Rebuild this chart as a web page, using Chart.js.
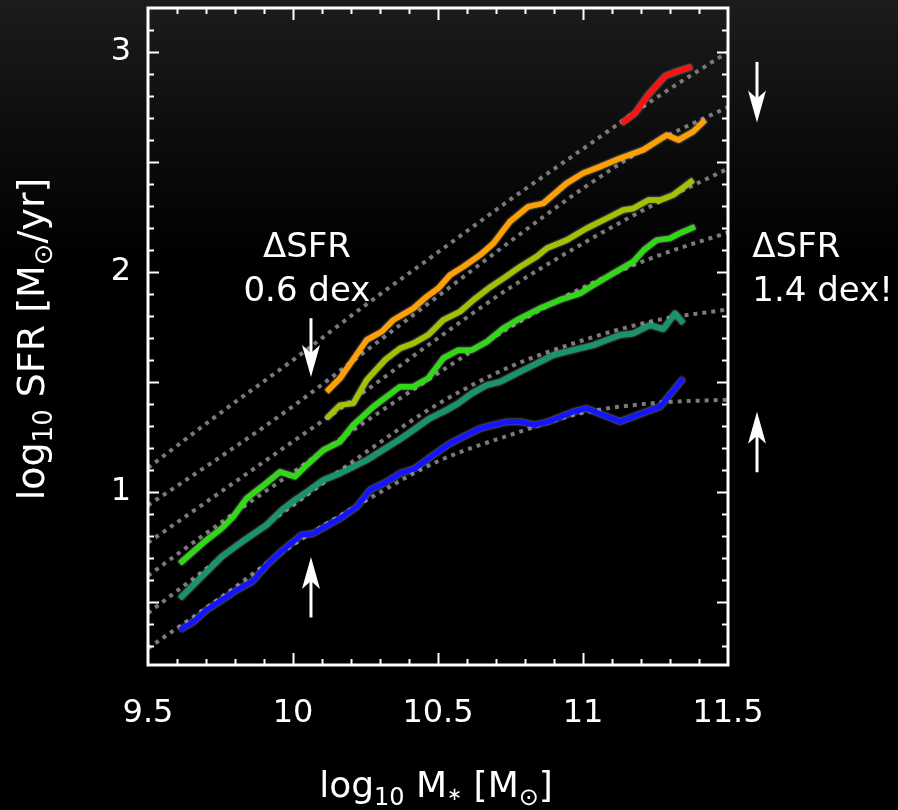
<!DOCTYPE html>
<html lang="en">
<head>
<meta charset="UTF-8">
<title>SFR vs stellar mass</title>
<script src="https://cdn.jsdelivr.net/npm/chart.js"></script>
<style>
    html, body { margin: 0; padding: 0; }
    body {
        width: 898px;
        height: 810px;
        overflow: hidden;
        background: linear-gradient(to bottom, #1c1c1c 0px, #0c0c0c 140px, #000 260px);
    }
    #sfr { display: block; }
</style>
</head>
<body>
<canvas id="sfr" width="898" height="810"></canvas>
<script>
// binned relations, log10 M* vs log10 SFR
const redMass = [11.133, 11.179, 11.225, 11.283, 11.323, 11.375];
const redSfr  = [2.676, 2.721, 2.805, 2.891, 2.911, 2.933];

const orangeMass = [10.116, 10.162, 10.214, 10.254, 10.306, 10.346, 10.369, 10.415, 10.461, 10.501, 10.541, 10.587, 10.645,
                    10.691, 10.748, 10.811, 10.863, 10.943, 11.0, 11.059, 11.128, 11.208, 11.289, 11.329, 11.38, 11.421];
const orangeSfr  = [1.456, 1.517, 1.615, 1.691, 1.729, 1.782, 1.80, 1.835, 1.888, 1.926, 1.986, 2.024, 2.077,
                    2.13, 2.229, 2.297, 2.312, 2.403, 2.449, 2.479, 2.517, 2.555, 2.623, 2.60, 2.638, 2.691];

const oliveMass = [10.116, 10.162, 10.208, 10.254, 10.317, 10.369, 10.415, 10.466, 10.518, 10.576, 10.622, 10.674, 10.725,
                   10.783, 10.84, 10.875, 10.944, 11.013, 11.082, 11.139, 11.174, 11.225, 11.266, 11.311, 11.38];
const oliveSfr  = [1.335, 1.395, 1.403, 1.509, 1.60, 1.653, 1.676, 1.714, 1.782, 1.82, 1.873, 1.926, 1.971,
                   2.024, 2.07, 2.108, 2.145, 2.199, 2.244, 2.282, 2.289, 2.327, 2.327, 2.35, 2.418];

const greenMass = [9.61, 9.656, 9.702, 9.754, 9.794, 9.84, 9.892, 9.955, 10.007, 10.041, 10.105, 10.162, 10.208, 10.277,
                   10.369, 10.415, 10.466, 10.518, 10.57, 10.616, 10.668, 10.725, 10.783, 10.852, 10.921, 10.99, 11.036,
                   11.104, 11.174, 11.21, 11.254, 11.30, 11.334, 11.386];
const greenSfr  = [0.676, 0.729, 0.782, 0.835, 0.888, 0.971, 1.024, 1.092, 1.07, 1.115, 1.191, 1.229, 1.305, 1.388,
                   1.479, 1.479, 1.517, 1.608, 1.645, 1.645, 1.683, 1.744, 1.789, 1.835, 1.873, 1.903, 1.941,
                   1.994, 2.047, 2.10, 2.145, 2.153, 2.176, 2.206];

const tealMass = [9.61, 9.662, 9.708, 9.754, 9.80, 9.858, 9.909, 9.961, 10.007, 10.041, 10.105, 10.162, 10.254, 10.369,
                  10.415, 10.472, 10.53, 10.57, 10.616, 10.668, 10.714, 10.76, 10.806, 10.852, 10.898, 10.944, 10.99,
                  11.036, 11.082, 11.128, 11.174, 11.231, 11.277, 11.317, 11.346];
const tealSfr  = [0.517, 0.585, 0.645, 0.706, 0.751, 0.805, 0.85, 0.918, 0.964, 0.994, 1.055, 1.085, 1.145, 1.24,
                  1.282, 1.335, 1.373, 1.403, 1.448, 1.486, 1.501, 1.532, 1.562, 1.592, 1.623, 1.638, 1.653,
                  1.668, 1.691, 1.714, 1.721, 1.759, 1.741, 1.812, 1.767];

const blueMass = [9.61, 9.656, 9.702, 9.754, 9.806, 9.858, 9.915, 9.972, 10.03, 10.07, 10.162, 10.22, 10.266, 10.323,
                  10.369, 10.421, 10.484, 10.541, 10.587, 10.645, 10.691, 10.742, 10.783, 10.834, 10.881, 10.967,
                  11.013, 11.07, 11.128, 11.197, 11.266, 11.346];
const blueSfr  = [0.373, 0.41, 0.464, 0.509, 0.555, 0.592, 0.676, 0.744, 0.805, 0.812, 0.88, 0.933, 1.009, 1.047,
                  1.085, 1.108, 1.168, 1.221, 1.251, 1.289, 1.305, 1.32, 1.32, 1.305, 1.32, 1.365,
                  1.38, 1.35, 1.32, 1.355, 1.388, 1.517];

// dotted model curves, sampled on a common mass grid
const modelMass = [9.5, 9.75, 10.0, 10.25, 10.5, 10.75, 11.0, 11.25, 11.5];
const model1 = [1.11, 1.36, 1.60, 1.85, 2.09, 2.33, 2.56, 2.79, 3.00];
const model2 = [0.94, 1.16, 1.39, 1.64, 1.89, 2.14, 2.38, 2.59, 2.75];
const model3 = [0.77, 1.00, 1.23, 1.46, 1.70, 1.93, 2.13, 2.31, 2.47];
const model4 = [0.62, 0.86, 1.09, 1.32, 1.54, 1.75, 1.93, 2.07, 2.18];
const model5 = [0.45, 0.70, 0.94, 1.18, 1.40, 1.57, 1.69, 1.78, 1.83];
const model6 = [0.29, 0.52, 0.76, 0.96, 1.14, 1.26, 1.36, 1.405, 1.42];

const xTickValues = [9.5, 10, 10.5, 11, 11.5];
const yTickValues = [1, 2, 3];

// arrows: x, tail y, tip y (data units)
const arrowX    = [10.062, 10.062, 11.60, 11.60];
const arrowTail = [1.79, 0.43, 2.955, 1.09];
const arrowTip  = [1.523, 0.705, 2.68, 1.365];

const pts = (xs, ys) => xs.map((x, i) => ({ x: x, y: ys[i] }));

function binned(xs, ys, color) {
    return {
        data: pts(xs, ys),
        borderColor: color,
        borderWidth: 5.5,
        pointRadius: 0,
        tension: 0,
        borderJoinStyle: 'round',
        order: 1,
        glow: true
    };
}

function model(ys) {
    return {
        data: pts(modelMass, ys),
        borderColor: '#7a7a7a',
        borderWidth: 4,
        borderDash: [4, 5],
        pointRadius: 0,
        cubicInterpolationMode: 'monotone',
        order: 2
    };
}

const FONT = 'DejaVu Sans';

// text with sub-scripted pieces: [text, size, drop]
function richWidth(ctx, parts) {
    let w = 0;
    parts.forEach(p => { ctx.font = p[1] + 'px "' + FONT + '"'; w += ctx.measureText(p[0]).width; });
    return w;
}
function drawRich(ctx, parts, x, y) {
    let cx = x - richWidth(ctx, parts) / 2;
    parts.forEach(p => {
        ctx.font = p[1] + 'px "' + FONT + '"';
        ctx.fillText(p[0], cx, y + p[2]);
        cx += ctx.measureText(p[0]).width;
    });
}

function arrow(ctx, x, y0, y1) {
    const dir = y1 > y0 ? 1 : -1;
    const head = 32, half = 9, notch = 24;
    ctx.beginPath();
    ctx.moveTo(x, y0);
    ctx.lineTo(x, y1 - dir * notch);
    ctx.stroke();
    ctx.beginPath();
    ctx.moveTo(x, y1);
    ctx.lineTo(x - half, y1 - dir * head);
    ctx.lineTo(x, y1 - dir * notch);
    ctx.lineTo(x + half, y1 - dir * head);
    ctx.closePath();
    ctx.fill();
}

const decor = {
    id: 'decor',
    beforeDatasetDraw(chart, args) {
        if (!chart.data.datasets[args.index].glow) return;
        const ctx = chart.ctx;
        ctx.save();
        ctx.shadowColor = 'rgba(255,255,255,0.65)';
        ctx.shadowBlur = 2.5;
    },
    afterDatasetDraw(chart, args) {
        if (chart.data.datasets[args.index].glow) chart.ctx.restore();
    },
    afterDraw(chart) {
        const ctx = chart.ctx;
        const xs = chart.scales.x, ys = chart.scales.y;
        const { left, right, top, bottom } = chart.chartArea;
        ctx.save();
        ctx.strokeStyle = '#fff';
        ctx.fillStyle = '#fff';

        // minor / major ticks on all four sides
        ctx.lineWidth = 2;
        ctx.beginPath();
        for (let i = 96; i <= 114; i++) {
            const p = Math.round(xs.getPixelForValue(i / 10)) + 0.5;
            const len = i % 5 === 0 ? 12 : 6;
            ctx.moveTo(p, bottom); ctx.lineTo(p, bottom - len);
            ctx.moveTo(p, top); ctx.lineTo(p, top + len);
        }
        for (let i = 3; i <= 31; i++) {
            const p = Math.round(ys.getPixelForValue(i / 10)) + 0.5;
            const len = i % 5 === 0 ? 11 : 6;
            ctx.moveTo(left, p); ctx.lineTo(left + len, p);
            ctx.moveTo(right, p); ctx.lineTo(right - len, p);
        }
        ctx.stroke();
        ctx.lineWidth = 3;
        ctx.strokeRect(left, top, right - left, bottom - top);

        // axis titles
        ctx.textBaseline = 'alphabetic';
        drawRich(ctx, [['log', 36, 0], ['10', 24, 8], [' M', 36, 0], ['\u2217', 18, 3], [' [M', 36, 0], ['\u2299', 24, 8], [']', 36, 0]],
                 436, 797);
        ctx.save();
        ctx.translate(44, 339);
        ctx.rotate(-Math.PI / 2);
        drawRich(ctx, [['log', 38, 0], ['10', 26, 8], [' SFR [M', 38, 0], ['\u2299', 26, 8], ['/yr]', 38, 0]], 0, 0);
        ctx.restore();

        // annotations
        ctx.font = '34px "' + FONT + '"';
        ctx.textAlign = 'center';
        ctx.fillText('\u0394SFR', xs.getPixelForValue(10.048), ys.getPixelForValue(2.068));
        ctx.fillText('0.6 dex', xs.getPixelForValue(10.048), ys.getPixelForValue(1.868));
        ctx.textAlign = 'left';
        ctx.fillText('\u0394SFR', xs.getPixelForValue(11.584), ys.getPixelForValue(2.068));
        ctx.fillText('1.4 dex!', xs.getPixelForValue(11.584), ys.getPixelForValue(1.868));

        ctx.lineWidth = 3;
        arrowX.forEach((x, i) => {
            arrow(ctx, xs.getPixelForValue(x), ys.getPixelForValue(arrowTail[i]), ys.getPixelForValue(arrowTip[i]));
        });
        ctx.restore();
    }
};

new Chart(document.getElementById('sfr'), {
    type: 'line',
    data: {
        datasets: [
            binned(redMass, redSfr, '#ff1010'),
            binned(orangeMass, orangeSfr, '#ffa000'),
            binned(oliveMass, oliveSfr, '#a0c200'),
            binned(greenMass, greenSfr, '#30d816'),
            binned(tealMass, tealSfr, '#16946e'),
            binned(blueMass, blueSfr, '#1414ff'),
            model(model1), model(model2), model(model3),
            model(model4), model(model5), model(model6)
        ]
    },
    options: {
        responsive: false,
        animation: false,
        layout: { padding: { top: 8, right: 170, bottom: 0, left: 0 } },
        plugins: { legend: { display: false }, tooltip: { enabled: false } },
        scales: {
            x: {
                type: 'linear',
                min: 9.5,
                max: 11.5,
                grid: { display: false, drawTicks: false },
                border: { display: false },
                afterBuildTicks: s => { s.ticks = xTickValues.map(v => ({ value: v })); },
                afterFit: s => { s.height = 145; s.paddingLeft = 0; s.paddingRight = 0; },
                ticks: {
                    color: '#fff',
                    font: { family: FONT, size: 32 },
                    padding: 29,
                    maxRotation: 0,
                    autoSkip: false,
                    callback: v => String(v)
                }
            },
            y: {
                type: 'linear',
                min: 0.214,
                max: 3.2,
                grid: { display: false, drawTicks: false },
                border: { display: false },
                afterBuildTicks: s => { s.ticks = yTickValues.map(v => ({ value: v })); },
                afterFit: s => { s.width = 148; s.paddingTop = 0; s.paddingBottom = 0; },
                ticks: {
                    color: '#fff',
                    font: { family: FONT, size: 32 },
                    padding: 17,
                    autoSkip: false,
                    callback: v => String(v)
                }
            }
        }
    },
    plugins: [decor]
});
</script>
</body>
</html>
